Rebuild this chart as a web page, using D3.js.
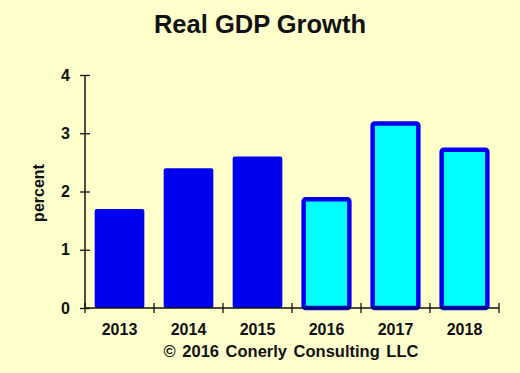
<!DOCTYPE html>
<html lang="en">
<head>
<meta charset="utf-8">
<title>Real GDP Growth</title>
<script src="https://cdn.jsdelivr.net/npm/d3@7"></script>
<style>
  body { margin: 0; background: #ffffcc; }
  text { font-family: Arial, "Liberation Sans", sans-serif; font-weight: bold; fill: #111; }
</style>
</head>
<body>
<script>

// data
var years = ["2013", "2014", "2015", "2016", "2017", "2018"];
var growth = [1.7, 2.4, 2.6, 1.9, 3.2, 2.75];
var forecast = [false, false, false, true, true, true];
var yTicks = [0, 1, 2, 3, 4];

var W = 520, H = 373;

var svg = d3.select("body").append("svg")
            .attr("width", W)
            .attr("height", H);

svg.append("rect")
   .attr("width", W)
   .attr("height", H)
   .attr("fill", "#ffffcc");

var x = d3.scaleBand()
          .domain(years)
          .range([85, 499])
          .paddingInner(0.28)
          .paddingOuter(0.14);

var y = d3.scaleLinear()
          .domain([0, 4])
          .range([308, 75]);

// bars
svg.selectAll("rect.bar")
   .data(years)
   .enter()
   .append("rect")
   .attr("class", "bar")
   .attr("x", function(d, i) { return forecast[i] ? x(d) + 2 : x(d); })
   .attr("width", function(d, i) { return forecast[i] ? x.bandwidth() - 4 : x.bandwidth(); })
   .attr("y", function(d, i) { return y(growth[i]) + (forecast[i] ? 2 : 0); })
   .attr("height", function(d, i) { return y(0) - y(growth[i]) - (forecast[i] ? 2 : 0); })
   .attr("rx", 2)
   .attr("fill", function(d, i) { return forecast[i] ? "#00ffff" : "#0000f0"; })
   .attr("stroke", "#0000f0")
   .attr("stroke-width", function(d, i) { return forecast[i] ? 4.5 : 0; });

// y axis
var yAxis = svg.append("g")
               .attr("transform", "translate(85,0)")
               .call(d3.axisLeft(y).tickValues(yTicks).tickSize(5).tickFormat(d3.format("d")));
yAxis.select(".domain").remove();
yAxis.selectAll(".tick line").attr("x2", 5).attr("x1", -5).attr("stroke", "#111").attr("stroke-width", 1.3);
yAxis.selectAll("text").style("font-size", "16px").attr("x", -15);
svg.append("line")
   .attr("x1", 85).attr("x2", 85)
   .attr("y1", y(4)).attr("y2", y(0))
   .attr("stroke", "#111").attr("stroke-width", 1.5);

// x axis
var xEdges = d3.range(years.length + 1).map(function(i) { return 85 + i * (499 - 85) / years.length; });
svg.append("line")
   .attr("x1", 85).attr("x2", 499)
   .attr("y1", y(0)).attr("y2", y(0))
   .attr("stroke", "#111").attr("stroke-width", 1.5);
svg.selectAll("line.xtick")
   .data(xEdges)
   .enter()
   .append("line")
   .attr("class", "xtick")
   .attr("x1", function(d) { return d; })
   .attr("x2", function(d) { return d; })
   .attr("y1", y(0) - 5)
   .attr("y2", y(0) + 5)
   .attr("stroke", "#111")
   .attr("stroke-width", 1.3);
svg.selectAll("text.xlab")
   .data(years)
   .enter()
   .append("text")
   .attr("class", "xlab")
   .attr("x", function(d) { return x(d) + x.bandwidth() / 2; })
   .attr("y", 335)
   .attr("text-anchor", "middle")
   .style("font-size", "16px")
   .text(function(d) { return d; });

// titles
svg.append("text")
   .attr("x", 260)
   .attr("y", 33)
   .attr("text-anchor", "middle")
   .style("font-size", "25.5px")
   .text("Real GDP Growth");

svg.append("text")
   .attr("transform", "translate(44,193) rotate(-90)")
   .attr("text-anchor", "middle")
   .style("font-size", "16px")
   .text("percent");

svg.append("text")
   .attr("x", 291)
   .attr("y", 357)
   .attr("text-anchor", "middle")
   .style("font-size", "16.5px")
   .style("word-spacing", "2px")
   .text("\u00a9 2016 Conerly Consulting LLC");

</script>
</body>
</html>
